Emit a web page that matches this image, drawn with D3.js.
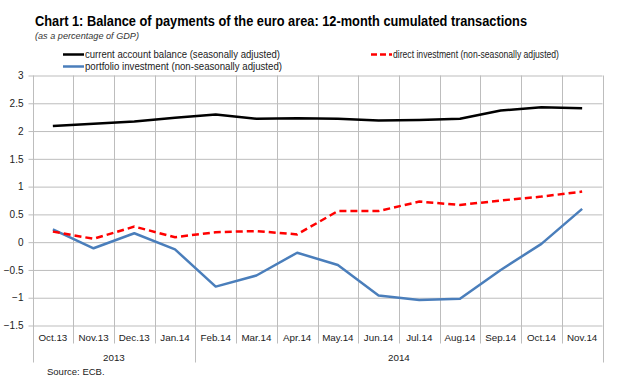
<!DOCTYPE html>
<html>
<head>
<meta charset="utf-8">
<script src="https://cdn.jsdelivr.net/npm/d3@7"></script>
<style>
  html, body { margin: 0; padding: 0; background: #fff; }
  svg { display: block; }
  text { font-family: "Liberation Sans", Arial, sans-serif; }
</style>
</head>
<body>
<svg id="chart" width="620" height="381"></svg>
<script>
const categories = ["Oct.13","Nov.13","Dec.13","Jan.14","Feb.14","Mar.14","Apr.14","May.14","Jun.14","Jul.14","Aug.14","Sep.14","Oct.14","Nov.14"];
const currentAccount = [2.09,2.13,2.17,2.24,2.30,2.22,2.23,2.22,2.19,2.20,2.22,2.37,2.43,2.41];
const directInvestment = [0.19,0.06,0.28,0.09,0.18,0.20,0.14,0.56,0.56,0.73,0.67,0.75,0.82,0.91];
const portfolioInvestment = [0.23,-0.11,0.16,-0.13,-0.80,-0.60,-0.19,-0.41,-0.96,-1.04,-1.02,-0.50,-0.03,0.60];
const yearLabels = ["2013","2014"];
const yearSpans = [4,10];
const yTicks = [3,2.5,2,1.5,1,0.5,0,-0.5,-1,-1.5];
const seriesNames = ["current account balance (seasonally adjusted)","direct investment (non-seasonally adjusted)","portfolio investment (non-seasonally adjusted)"];

(function () {
const svg = d3.select("#chart");
const pLeft = 32.5, pRight = 602.5, pTop = 75.5, pBottom = 325.5;

const x = d3.scaleBand().domain(categories).range([pLeft, pRight]).padding(0);
const y = d3.scaleLinear().domain([-1.5, 3]).range([pBottom, pTop]);
const grid = "#bdbdbd";

// horizontal gridlines + y labels
const yAxis = svg.append("g").attr("transform", `translate(${pLeft},0)`)
  .call(d3.axisLeft(y).tickValues(yTicks).tickSize(-(pRight - pLeft)).tickFormat(d => d3.format("")(d)).tickPadding(9));
yAxis.select(".domain").remove();
yAxis.selectAll(".tick line").attr("stroke", grid).attr("x1", -4).attr("x2", pRight - pLeft);
yAxis.selectAll(".tick text").attr("font-size", 10).attr("fill", "#222");

// vertical gridlines at category boundaries
const bounds = categories.map(c => x(c)).concat([x(categories[categories.length - 1]) + x.bandwidth()]);
svg.append("g").selectAll("line").data(bounds).join("line")
  .attr("x1", d => Math.round(d) + 0.5).attr("x2", d => Math.round(d) + 0.5)
  .attr("y1", pTop).attr("y2", pBottom + 18)
  .attr("stroke", grid).attr("stroke-width", 1);

// year separators
let acc = 0;
const yearBounds = [x(categories[0])];
yearSpans.forEach(s => { acc += s; yearBounds.push(acc >= categories.length ? pRight : x(categories[acc])); });
svg.append("g").selectAll("line").data(yearBounds).join("line")
  .attr("x1", d => Math.round(d) + 0.5).attr("x2", d => Math.round(d) + 0.5)
  .attr("y1", pBottom).attr("y2", pBottom + 37)
  .attr("stroke", grid).attr("stroke-width", 1);

// category labels
const xAxis = svg.append("g").attr("transform", `translate(0,${pBottom})`)
  .call(d3.axisBottom(x).tickSize(0).tickPadding(9));
xAxis.select(".domain").remove();
xAxis.selectAll(".tick text").attr("font-size", 9.8).attr("fill", "#222");

// year labels
svg.append("g").selectAll("text").data(yearLabels).join("text")
  .attr("x", (d, i) => (yearBounds[i] + yearBounds[i + 1]) / 2)
  .attr("y", pBottom + 35)
  .attr("text-anchor", "middle").attr("font-size", 9.8).attr("fill", "#222")
  .text(d => d);

// lines
const line = d3.line().x((d, i) => x(categories[i]) + x.bandwidth() / 2).y(d => y(d)).curve(d3.curveLinear);
svg.append("path").datum(portfolioInvestment).attr("d", line)
  .attr("fill", "none").attr("stroke", "#4a7ebb").attr("stroke-width", 2.5).attr("stroke-linejoin", "round");
svg.append("path").datum(directInvestment).attr("d", line)
  .attr("fill", "none").attr("stroke", "#ff0000").attr("stroke-width", 2.5).attr("stroke-dasharray", "7,4");
svg.append("path").datum(currentAccount).attr("d", line)
  .attr("fill", "none").attr("stroke", "#000").attr("stroke-width", 2.5).attr("stroke-linejoin", "round");

// title
svg.append("text").attr("x", 35).attr("y", 26).attr("font-size", 14).attr("font-weight", "bold")
  .attr("textLength", 492).attr("lengthAdjust", "spacingAndGlyphs")
  .text("Chart 1: Balance of payments of the euro area: 12-month cumulated transactions");
svg.append("text").attr("x", 35).attr("y", 39).attr("font-size", 9).attr("font-style", "italic").attr("fill", "#333")
  .attr("textLength", 104).attr("lengthAdjust", "spacingAndGlyphs")
  .text("(as a percentage of GDP)");

// legend
const legend = [
  {name: seriesNames[0], color: "#000", dash: null, lx: 63, ly: 54.5, tl: 195},
  {name: seriesNames[1], color: "#ff0000", dash: "6,3", lx: 371, ly: 54.5, tl: 166},
  {name: seriesNames[2], color: "#4a7ebb", dash: null, lx: 63, ly: 66.5, tl: 197}
];
const lg = svg.append("g").selectAll("g").data(legend).join("g");
lg.append("line").attr("x1", d => d.lx).attr("x2", d => d.lx + 21).attr("y1", d => d.ly).attr("y2", d => d.ly)
  .attr("stroke", d => d.color).attr("stroke-width", 2.5).attr("stroke-dasharray", d => d.dash);
lg.append("text").attr("x", d => d.lx + 22).attr("y", d => d.ly + 3.5).attr("font-size", 10.5).attr("fill", "#222")
  .attr("textLength", d => d.tl).attr("lengthAdjust", "spacingAndGlyphs")
  .text(d => d.name);

// source
svg.append("text").attr("x", 47).attr("y", 375).attr("font-size", 9.5).attr("fill", "#222").text("Source:  ECB.");
})();
</script>
</body>
</html>
